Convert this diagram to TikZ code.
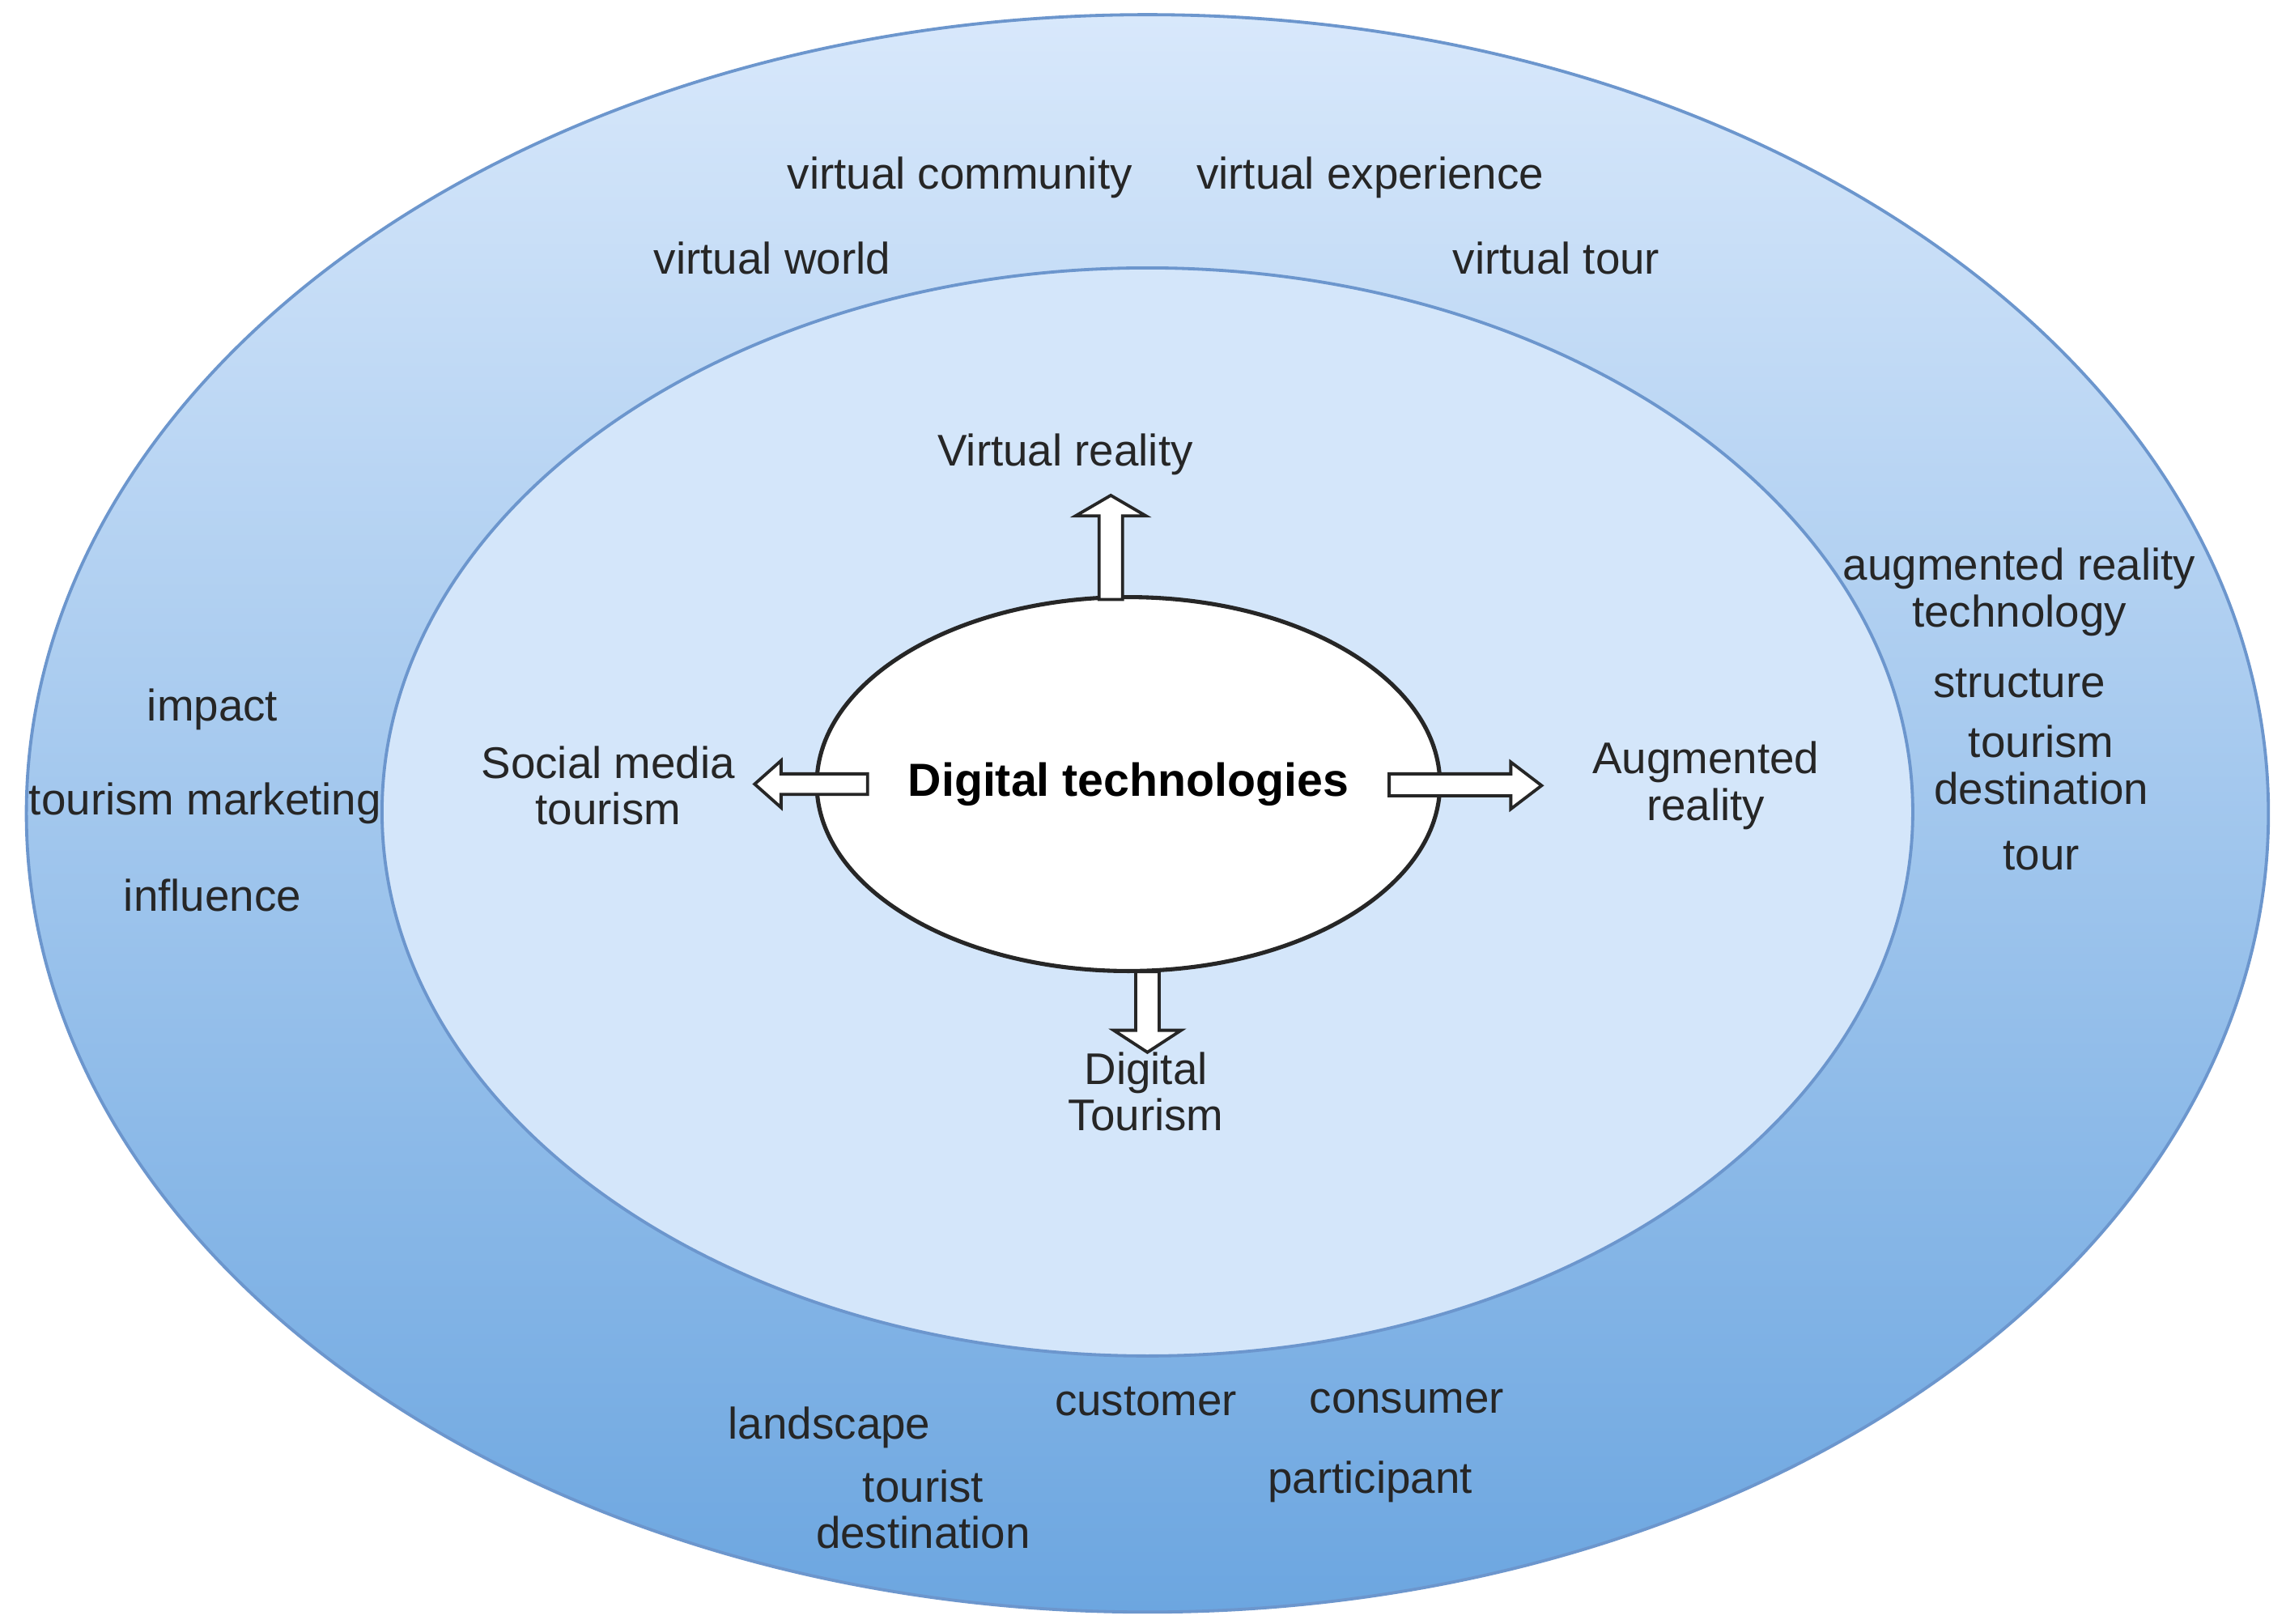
\documentclass[tikz,border=0pt]{standalone}
\usepackage{fontspec}
\setmainfont{Liberation Sans}
\usetikzlibrary{shapes.geometric}
\definecolor{edge}{RGB}{108,150,205}
\definecolor{topc}{RGB}{216,232,251}
\definecolor{botc}{RGB}{108,166,224}
\definecolor{innerc}{RGB}{212,230,250}
\begin{document}
\begin{tikzpicture}[x=0.01cm,y=-0.01cm,
  lbl/.style={font=\fontsize{8.6}{9}\selectfont, align=center, text=black!85, inner sep=0pt},
  blk/.style={draw=black!85, fill=white, line width=0.6pt, line join=miter}]
\useasboundingbox (0,0) rectangle (1560,1108);
\fill[white] (0,0) rectangle (1560,1108);
\shade[top color=topc, bottom color=botc] (783,555) ellipse [x radius=765, y radius=545];
\draw[edge, line width=0.6pt] (783,555) ellipse [x radius=765, y radius=545];
\node[draw=edge, fill=innerc, ellipse, line width=0.6pt, minimum width=10.44cm, minimum height=7.42cm, inner sep=0pt] (mid) at (783,554) {};
\node[draw=black!85, fill=white, ellipse, line width=0.8pt, minimum width=3.56cm, minimum height=2.55cm, inner sep=0pt, font=\fontsize{9}{10}\selectfont\bfseries] (dt) at (770,535) {Digital technologies};
% arrows
\draw[blk] (750,409)--(750,352)--(734,352)--(758,338)--(782,352)--(766,352)--(766,409)--cycle;
\draw[blk] (592,528)--(533,528)--(533,519)--(515,535)--(533,551)--(533,542)--(592,542)--cycle;
\draw[blk] (948,528)--(1031,528)--(1031,520)--(1052,536)--(1031,552)--(1031,543)--(948,543)--cycle;
\draw[blk] (775,663)--(775,703)--(760,703)--(783,718)--(806,703)--(791,703)--(791,663)--cycle;
% inner labels
\node[lbl] (vr) at (727,310) {Virtual reality};
\node[lbl] (sm) at (415,536) {Social media\\tourism};
\node[lbl] (ar) at (1164,536) {Augmented\\reality};
\node[lbl] (dtour) at (782,745) {Digital\\Tourism};
% outer labels
\node[lbl] at (655,121) {virtual community};
\node[lbl] at (935,121) {virtual experience};
\node[lbl] at (527,176) {virtual world};
\node[lbl] at (1062,176) {virtual tour};
\node[lbl] at (1378,404) {augmented reality\\technology};
\node[lbl] at (1378,466) {structure};
\node[lbl] at (1393,522) {tourism\\destination};
\node[lbl] at (1393,584) {tour};
\node[lbl] at (145,484) {impact};
\node[lbl] at (140,548) {tourism marketing};
\node[lbl] at (145,611) {influence};
\node[lbl] at (566,974) {landscape};
\node[lbl] at (782,956) {customer};
\node[lbl] at (960,956) {consumer};
\node[lbl] at (935,1011) {participant};
\node[lbl] at (630,1030) {tourist\\destination};
\end{tikzpicture}
\end{document}
